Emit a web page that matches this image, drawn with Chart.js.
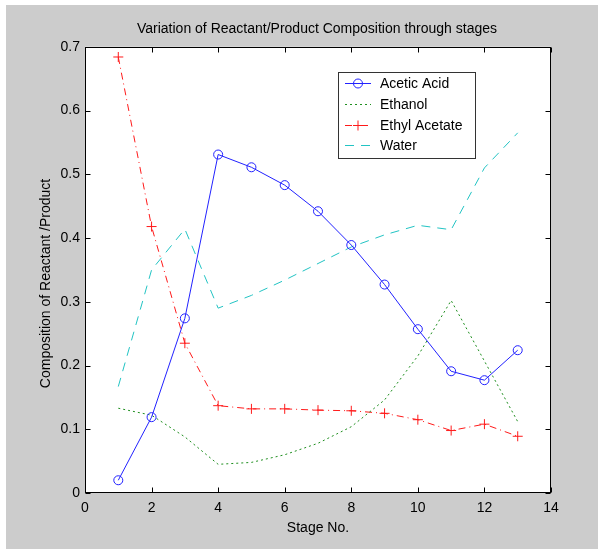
<!DOCTYPE html>
<html>
<head>
<meta charset="utf-8">
<script src="https://cdn.jsdelivr.net/npm/chart.js@4.4.0/dist/chart.umd.min.js"></script>
<style>
  html, body { margin: 0; padding: 0; background: #ffffff; }
  #wrap { position: absolute; left: 0; top: 0; width: 598px; height: 549px; }
</style>
</head>
<body>
<div id="wrap"><canvas id="c" width="598" height="549"></canvas></div>
<script>
// ---- data ----
const stages = [1, 2, 3, 4, 5, 6, 7, 8, 9, 10, 11, 12, 13];
const aceticAcid   = [0.020, 0.119, 0.274, 0.531, 0.511, 0.483, 0.442, 0.389, 0.327, 0.257, 0.191, 0.177, 0.224];
const ethanol      = [0.133, 0.122, 0.088, 0.045, 0.048, 0.060, 0.078, 0.104, 0.146, 0.215, 0.302, 0.207, 0.112];
const ethylAcetate = [0.684, 0.418, 0.235, 0.137, 0.132, 0.132, 0.130, 0.129, 0.125, 0.115, 0.098, 0.108, 0.089];
const water        = [0.167, 0.350, 0.414, 0.290, 0.310, 0.334, 0.360, 0.386, 0.405, 0.420, 0.413, 0.510, 0.565];
const seriesNames  = ['Acetic Acid', 'Ethanol', 'Ethyl Acetate', 'Water'];
const xTicks = [0, 2, 4, 6, 8, 10, 12, 14];
const yTicks = [0, 0.1, 0.2, 0.3, 0.4, 0.5, 0.6, 0.7];
const titleText = 'Variation of Reactant/Product Composition through stages';
const xTitle = 'Stage No.';
const yTitle = 'Composition of Reactant /Product';

const FONT = "'Liberation Sans', Arial, sans-serif";
const FS = 14;
const toPts = arr => arr.map((v, i) => ({ x: stages[i], y: v }));

const BLUE = '#2222ff', GREEN = '#1f8f1f', RED = '#ff1a1a', CYAN = '#22c4c4';

const datasets = [
  { label: seriesNames[0], data: toPts(aceticAcid), borderColor: BLUE, borderWidth: 1,
    pointStyle: 'circle', pointRadius: 4.5, pointBorderColor: BLUE, pointBackgroundColor: 'rgba(0,0,0,0)', pointBorderWidth: 1, borderDash: [] },
  { label: seriesNames[1], data: toPts(ethanol), borderColor: GREEN, borderWidth: 1,
    pointRadius: 0, borderDash: [2, 3] },
  { label: seriesNames[2], data: toPts(ethylAcetate), borderColor: RED, borderWidth: 1,
    pointStyle: 'cross', pointRadius: 5, pointBorderColor: RED, pointBorderWidth: 1, borderDash: [7, 4, 1, 4] },
  { label: seriesNames[3], data: toPts(water), borderColor: CYAN, borderWidth: 1,
    pointRadius: 0, borderDash: [9, 7] }
];

const framePlugin = {
  id: 'frame',
  beforeDraw(chart) {
    const { ctx, chartArea: a } = chart;
    ctx.save();
    ctx.fillStyle = '#cccccc';
    ctx.fillRect(6, 5, 592, 544);
    ctx.fillStyle = '#ffffff';
    ctx.fillRect(a.left, a.top, a.right - a.left, a.bottom - a.top);
    ctx.restore();
  },
  afterDraw(chart) {
    const { ctx, chartArea: a, scales } = chart;
    ctx.save();
    ctx.strokeStyle = '#000000';
    ctx.lineWidth = 1;
    ctx.setLineDash([]);
    const L = Math.round(a.left) + 0.5, R = Math.round(a.right) - 0.5;
    const T = Math.round(a.top) + 0.5, B = Math.round(a.bottom) - 0.5;
    ctx.strokeRect(L, T, R - L, B - T);
    const tl = 5;
    ctx.beginPath();
    xTicks.forEach(v => {
      const x = Math.round(scales.x.getPixelForValue(v)) + 0.5;
      ctx.moveTo(x, B); ctx.lineTo(x, B - tl);
      ctx.moveTo(x, T); ctx.lineTo(x, T + tl);
    });
    yTicks.forEach(v => {
      const y = Math.round(scales.y.getPixelForValue(v)) + 0.5;
      ctx.moveTo(L, y); ctx.lineTo(L + tl, y);
      ctx.moveTo(R, y); ctx.lineTo(R - tl, y);
    });
    ctx.stroke();

    // legend box
    const bx = 338.5, by = 72.5, bw = 137, bh = 86;
    ctx.fillStyle = '#ffffff';
    ctx.fillRect(bx, by, bw, bh);
    ctx.strokeStyle = '#333333';
    ctx.strokeRect(bx, by, bw, bh);
    ctx.font = FS + 'px ' + FONT;
    ctx.textBaseline = 'middle';
    ctx.textAlign = 'left';
    const rows = [83, 104, 125, 145];
    chart.data.datasets.forEach((ds, i) => {
      const y = rows[i] + 0.5;
      ctx.strokeStyle = ds.borderColor;
      ctx.setLineDash(ds.borderDash || []);
      ctx.beginPath();
      ctx.moveTo(345, y); ctx.lineTo(371, y);
      ctx.stroke();
      ctx.setLineDash([]);
      if (ds.pointRadius > 0) {
        ctx.beginPath();
        if (ds.pointStyle === 'circle') {
          ctx.arc(358, y, ds.pointRadius, 0, Math.PI * 2);
        } else {
          ctx.moveTo(358 - ds.pointRadius, y); ctx.lineTo(358 + ds.pointRadius, y);
          ctx.moveTo(358, y - ds.pointRadius); ctx.lineTo(358, y + ds.pointRadius);
        }
        ctx.stroke();
      }
      ctx.fillStyle = '#000000';
      ctx.fillText(ds.label, 380, y + 1);
    });
    ctx.restore();
  }
};

new Chart(document.getElementById('c'), {
  type: 'line',
  data: { datasets },
  options: {
    responsive: false,
    animation: false,
    layout: { padding: { left: 36, right: 0, top: 0, bottom: 0 } },
    plugins: {
      legend: { display: false },
      tooltip: { enabled: false },
      title: {
        display: true, text: titleText, color: '#000000',
        font: { family: FONT, size: FS, weight: 'normal' },
        padding: { top: 21, bottom: 9 }
      }
    },
    elements: { line: { tension: 0 } },
    scales: {
      x: {
        type: 'linear', min: 0, max: 14,
        afterBuildTicks: s => { s.ticks = xTicks.map(v => ({ value: v })); },
        afterFit: s => { s.height = 56; },
        grid: { display: false, drawTicks: false, tickLength: 0 },
        border: { display: false },
        ticks: { color: '#000000', padding: 7, font: { family: FONT, size: FS }, maxRotation: 0 },
        title: { display: true, text: xTitle, color: '#000000', font: { family: FONT, size: FS }, padding: { top: 0, bottom: 12 } }
      },
      y: {
        type: 'linear', min: 0, max: 0.7, position: 'left',
        afterBuildTicks: s => { s.ticks = yTicks.map(v => ({ value: v })); },
        afterFit: s => { s.width = 49; },
        grid: { display: false, drawTicks: false, tickLength: 0 },
        border: { display: false },
        ticks: { color: '#000000', padding: 5, font: { family: FONT, size: FS },
                 callback: v => (v === 0 ? '0' : v.toFixed(1)) },
        title: { display: true, text: yTitle + '       ', color: '#000000', font: { family: FONT, size: FS }, padding: { top: 2 } }
      },
      yRight: {
        type: 'linear', min: 0, max: 1, position: 'right', display: true,
        afterFit: s => { s.width = 47; },
        grid: { display: false, drawTicks: false },
        border: { display: false },
        ticks: { display: false }
      }
    }
  },
  plugins: [framePlugin]
});
</script>
</body>
</html>
